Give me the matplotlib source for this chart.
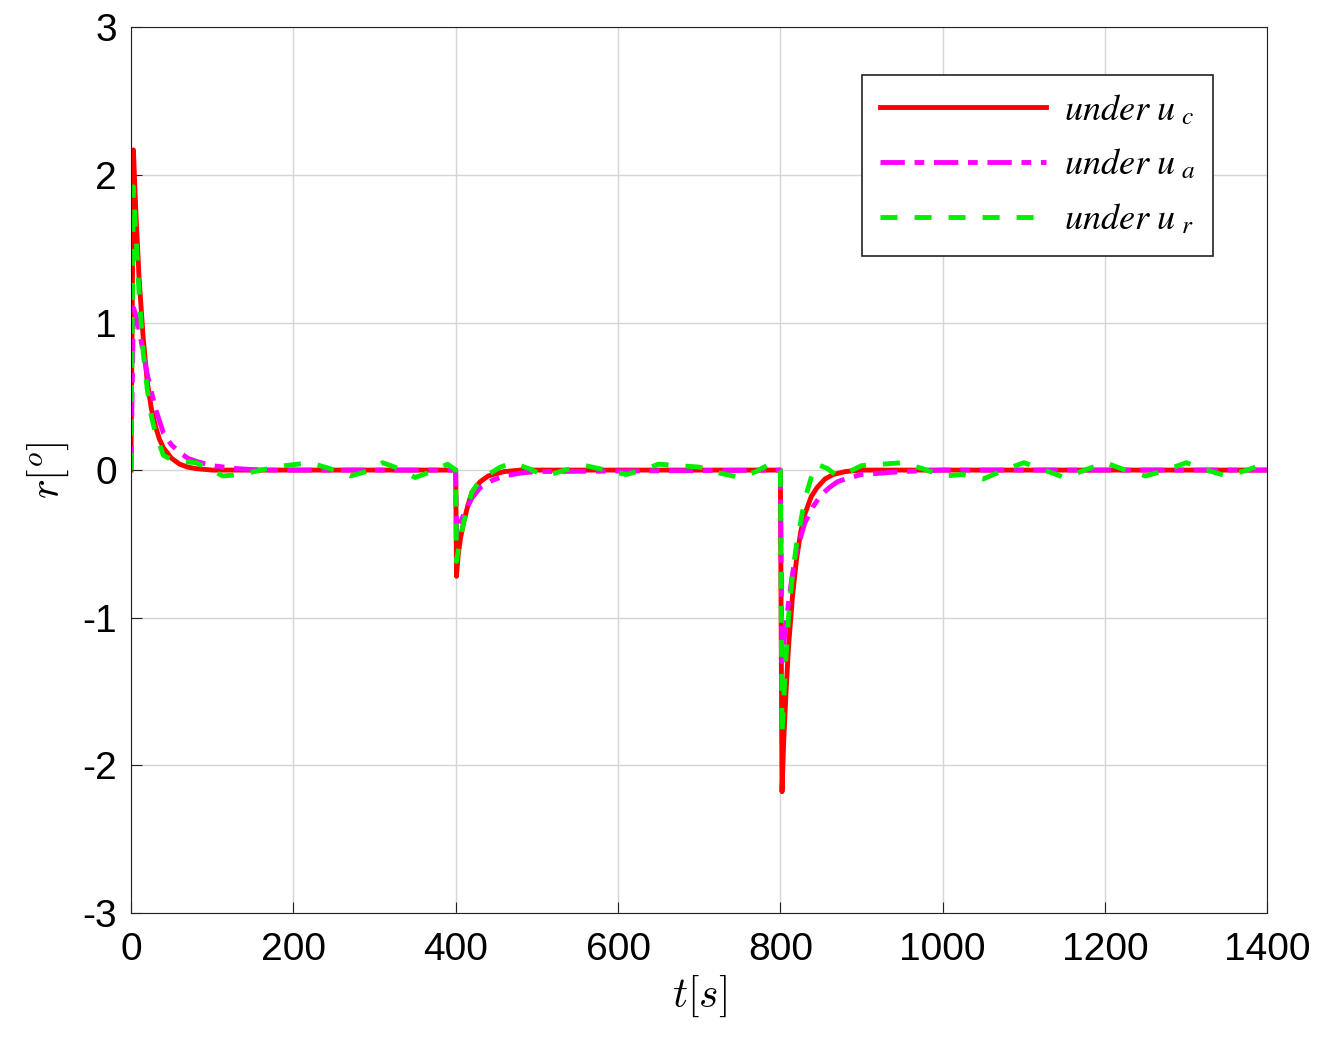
import matplotlib
matplotlib.use('Agg')
import matplotlib.pyplot as plt

# values
t_c = [0, 3, 6, 10, 15, 20, 25, 30, 35, 40, 50, 60, 70, 80, 100, 400, 401, 403, 406, 410, 415,
       420, 430, 440, 460, 480, 800, 802, 804, 807, 810, 815, 820, 825, 830, 838, 845, 855, 865,
       880, 900, 1400]
r_c = [0, 2.17, 1.75, 1.3, 0.9, 0.6, 0.42, 0.3, 0.21, 0.15, 0.08, 0.04, 0.02, 0.01, 0, 0, -0.72,
       -0.58, -0.46, -0.35, -0.24, -0.15, -0.08, -0.04, -0.01, 0, 0, -2.18, -1.85, -1.5, -1.2,
       -0.85, -0.6, -0.42, -0.3, -0.18, -0.12, -0.06, -0.03, -0.01, 0, 0]

t_a = [0, 3, 6, 10, 15, 20, 30, 40, 50, 60, 70, 80, 100, 130, 160, 400, 401, 405, 410, 420, 430,
       445, 460, 480, 500, 800, 802, 806, 810, 815, 820, 830, 840, 850, 860, 870, 880, 900, 925,
       950, 1000, 1400]
r_a = [0, 1.1, 1.05, 0.95, 0.8, 0.65, 0.42, 0.25, 0.17, 0.12, 0.08, 0.06, 0.03, 0.01, 0, 0,
       -0.45, -0.37, -0.3, -0.19, -0.12, -0.07, -0.04, -0.02, -0.01, 0, -1.3, -1.08, -0.9, -0.7,
       -0.55, -0.36, -0.25, -0.17, -0.12, -0.08, -0.06, -0.03, -0.02, -0.01, 0, 0]

t_r = [0, 3, 6, 10, 15, 20, 25, 30, 40, 50, 60, 80, 100, 113, 135, 160, 190, 220, 245, 270, 290,
       310, 330, 350, 370, 390, 400, 401, 405, 410, 420, 430, 440, 455, 470, 490, 510, 535, 560,
       585, 610, 630, 650, 675, 700, 725, 750, 770, 790, 800, 802, 806, 810, 815, 820, 830, 838,
       845, 858, 870, 885, 900, 925, 950, 975, 1000, 1025, 1050, 1075, 1100, 1125, 1150, 1175,
       1200, 1225, 1250, 1275, 1300, 1325, 1350, 1375, 1400]
r_r = [0, 1.92, 1.6, 1.2, 0.8, 0.55, 0.37, 0.25, 0.1, 0.07, 0.06, 0.05, 0.0, -0.04, -0.03, 0,
       0.03, 0.05, 0.01, -0.04, -0.01, 0.05, 0.01, -0.05, -0.01, 0.04, 0, -0.62, -0.48, -0.35,
       -0.15, -0.07, -0.03, 0.02, 0.05, 0.01, -0.04, 0, 0.03, 0, -0.03, 0, 0.04, 0.03, 0.02,
       -0.02, -0.05, -0.01, 0.05, 0, -1.8, -1.35, -1.0, -0.7, -0.5, -0.2, -0.05, 0.04, 0.01,
       -0.04, -0.01, 0.03, 0.04, 0.05, 0.01, -0.04, -0.03, -0.06, 0, 0.05, 0, -0.05, 0, 0.05,
       0, -0.04, 0, 0.05, 0, -0.04, 0, 0.05]

plt.rcParams['font.family'] = ['Liberation Sans', 'DejaVu Sans']
plt.rcParams['mathtext.fontset'] = 'stix'
plt.rcParams['axes.unicode_minus'] = False

fig = plt.figure(figsize=(13.23, 10.54), dpi=100)
ax = fig.add_axes([0.099, 0.134, 0.859, 0.840])

ax.plot(t_c, r_c, color='red', lw=3.5, label=r'$\mathit{under}\ u_{\ c}$')
ax.plot(t_a, r_a, color='magenta', lw=3.5, ls='-.', dashes=(5, 2, 2, 2), label=r'$\mathit{under}\ u_{\ a}$')
ax.plot(t_r, r_r, color='#00ee00', lw=3.5, ls='--', dashes=(3.5, 3.5), label=r'$\mathit{under}\ u_{\ r}$')

ax.set_xlim(0, 1400)
ax.set_ylim(-3, 3)
ax.set_xticks(range(0, 1401, 200))
ax.set_yticks(range(-3, 4))
ax.tick_params(labelsize=28, direction='in', length=8, color='#222222')
ax.tick_params(axis='x', pad=14)
ax.tick_params(axis='y', pad=10)
for s in ax.spines.values():
    s.set_color('#222222')
ax.grid(True, color='#d5d5d5', lw=1)
ax.set_axisbelow(True)
ax.set_xlabel(r'$t[s]$', fontsize=30, math_fontfamily='cm', labelpad=4)
ax.set_ylabel(r'$r[^o]$', fontsize=30, math_fontfamily='cm', labelpad=8)

leg = ax.legend(loc='upper right', fancybox=False, framealpha=1,
                edgecolor='#222222', handlelength=4.6, borderpad=0.5, labelspacing=0.55,
                handletextpad=0.5, bbox_to_anchor=(0.968, 0.967), prop={'size': 26})
leg.get_frame().set_linewidth(1.2)

fig.savefig('out.png')
